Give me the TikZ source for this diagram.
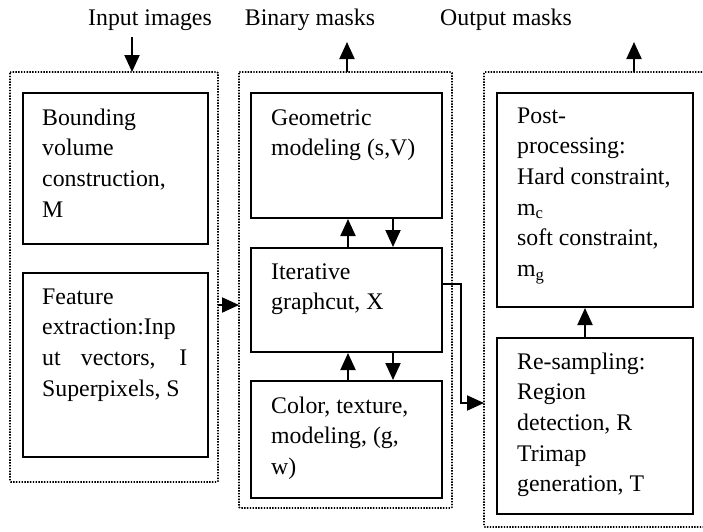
\documentclass[tikz,border=0pt]{standalone}
\usepackage{fontspec}
\setmainfont{Liberation Serif}
\usetikzlibrary{arrows.meta}

\tikzset{
  stage/.style={draw, line width=2pt, inner sep=0pt, anchor=north west},
  group/.style={draw, line width=1.7pt, dash pattern=on 1.4pt off 1.4pt, rounded corners=1pt},
  flow/.style={line width=2pt, -{Triangle[length=17pt,width=15pt]}},
  label/.style={anchor=base west, inner sep=0pt},
  title/.style={anchor=base, inner sep=0pt},
}
\newcommand{\boxtext}[1]{\parbox[t]{160pt}{\raggedright\fontsize{23.8}{30.7}\selectfont #1}}

\begin{document}
\begin{tikzpicture}[x=1pt,y=-1pt]
\useasboundingbox (0,0) rectangle (703,531);
\clip (0,0) rectangle (703,531);

% column headings
\node[title] (tin)  at (150,25) {\fontsize{23.8}{28}\selectfont Input images};
\node[title] (tbin) at (310,25) {\fontsize{23.8}{28}\selectfont Binary masks};
\node[title] (tout) at (506,25) {\fontsize{23.8}{28}\selectfont Output masks};

% dotted groups
\draw[group] (10,72) rectangle (218,482);
\coordinate (d1nw) at (10,72); \coordinate (d1se) at (218,482);
\draw[group] (239,72) rectangle (452,508);
\coordinate (d2nw) at (239,72); \coordinate (d2se) at (452,508);
\draw[group] (484,72) rectangle (712,527);
\coordinate (d3nw) at (484,72); \coordinate (d3se) at (712,527);

% stage boxes
\node[stage, minimum width=185pt, minimum height=151pt] (bvol)   at (22,92)  {};
\node[stage, minimum width=185pt, minimum height=184pt] (feat)   at (22,272) {};
\node[stage, minimum width=191pt, minimum height=125pt] (geom)   at (250,92) {};
\node[stage, minimum width=191pt, minimum height=104pt] (iter)   at (250,247) {};
\node[stage, minimum width=191pt, minimum height=117pt] (color)  at (250,380) {};
\node[stage, minimum width=196pt, minimum height=214pt] (post)   at (496,92) {};
\node[stage, minimum width=196pt, minimum height=176pt] (resamp) at (496,337) {};

% box texts
\node[label] (bvolt) at (42,125) {\boxtext{Bounding\\volume\\construction,\\M}};
\node[label] (featt) at (42,304) {\boxtext{Feature\\extraction:Inp\\\makebox[145pt][s]{ut vectors, I}\\Superpixels, S}};
\node[label] (geomt) at (271,125) {\boxtext{Geometric\\modeling (s,V)}};
\node[label] (itert) at (271,279) {\boxtext{Iterative\\graphcut, X}};
\node[label] (colort) at (271,413) {\boxtext{Color, texture,\\modeling, (g,\\w)}};
\node[label] (postt) at (517,123) {\boxtext{Post-\\processing:\\Hard constraint,\\m\textsubscript{c}\\soft constraint,\\m\textsubscript{g}}};
\node[label] (resampt) at (517,369) {\boxtext{Re-sampling:\\Region\\detection, R\\Trimap\\generation, T}};

% connectors
\coordinate (inTop) at (132,37);
\coordinate (binTop) at (347,42);
\coordinate (outTop) at (634,42);
\draw[flow] (inTop) -- (inTop |- d1nw);
\draw[flow] (binTop |- d2nw) -- (binTop);
\draw[flow] (outTop |- d3nw) -- (outTop);

\coordinate (linkY) at (0,305);
\draw[flow] (d1se |- linkY) -- (d2nw |- linkY);

\coordinate (upX) at (348,0);
\coordinate (downX) at (393,0);
\draw[flow] (upX |- iter.north) -- (upX |- geom.south);
\draw[flow] (downX |- geom.south) -- (downX |- iter.north);
\draw[flow] (upX |- color.north) -- (upX |- iter.south);
\draw[flow] (downX |- iter.south) -- (downX |- color.north);

\coordinate (postX) at (585,0);
\draw[flow] (postX |- resamp.north) -- (postX |- post.south);

\coordinate (elbowA) at (461,284);
\coordinate (elbowB) at (461,403);
\draw[flow] (iter.east |- elbowA) -- (elbowA) -- (elbowB) -- (d3nw |- elbowB);
\end{tikzpicture}
\end{document}
